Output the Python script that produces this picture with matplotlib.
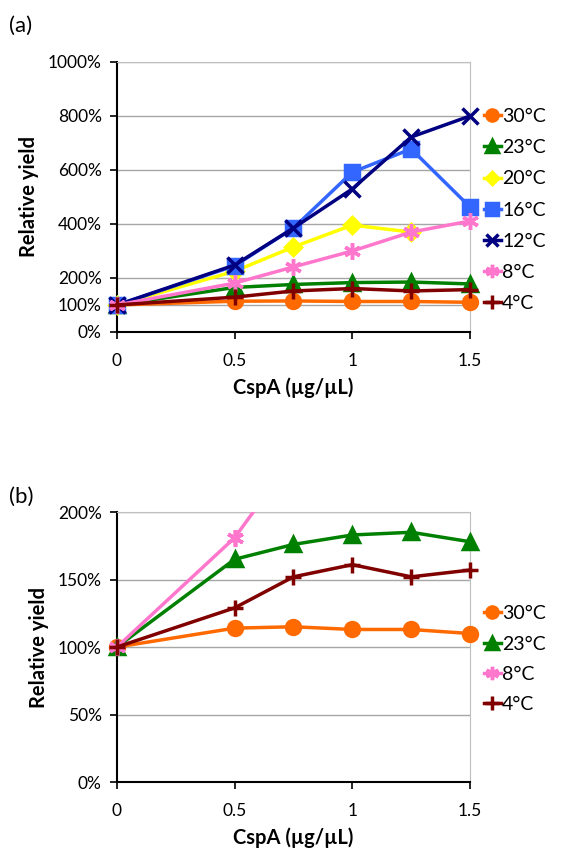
import numpy as np
import matplotlib.pyplot as plt
from matplotlib.ticker import FuncFormatter

plt.rcParams['font.family'] = ['Lato', 'DejaVu Sans']

cspa = [0, 0.5, 0.75, 1.0, 1.25, 1.5]

y_30 = [100, 114, 115, 113, 113, 110]
y_23 = [100, 165, 176, 183, 185, 178]
y_20 = [100, 225, 315, 396, 370]
y_16 = [100, 245, 385, 592, 678, 463]
y_12 = [100, 248, 385, 530, 722, 800]
y_8 = [100, 181, 241, 300, 370, 411]
y_4 = [100, 129, 152, 161, 152, 157]

series_a = [
    ('30°C', y_30, '#FF6A00', 'o', 10),
    ('23°C', y_23, '#008000', '^', 10),
    ('20°C', y_20, '#FFFF00', 'D', 8),
    ('16°C', y_16, '#3366FF', 's', 10),
    ('12°C', y_12, '#000080', 'x', 11),
    ('8°C', y_8, '#FF77CC', (6, 2, 0), 12),
    ('4°C', y_4, '#800000', '+', 12),
]
series_b = [s for s in series_a if s[0] in ('30°C', '23°C', '8°C', '4°C')]

pct = FuncFormatter(lambda v, p: '%d%%' % v)
xfmt = FuncFormatter(lambda v, p: ('%g' % v))

fig = plt.figure(figsize=(5.64, 8.48), dpi=100)
ax_a = fig.add_axes([0.2074, 0.6085, 0.6259, 0.3184])
ax_b = fig.add_axes([0.2074, 0.0778, 0.6259, 0.3184])


def style(ax, yticks, ymax):
    ax.set_xlim(0, 1.5)
    ax.set_ylim(0, ymax)
    ax.set_xticks([0, 0.5, 1, 1.5])
    ax.set_yticks(yticks)
    ax.xaxis.set_major_formatter(xfmt)
    ax.yaxis.set_major_formatter(pct)
    ax.grid(axis='y', color='#a6a6a6', lw=1)
    ax.set_axisbelow(True)
    for s in ('top', 'right'):
        ax.spines[s].set_color('#bfbfbf')
    for s in ('left', 'bottom'):
        ax.spines[s].set_color('black')
        ax.spines[s].set_linewidth(1.5)
    ax.tick_params(direction='out', length=5, width=1.2, labelsize=12.5,
                   color='black')
    ax.tick_params(axis='x', pad=10)
    ax.tick_params(axis='y', pad=6)
    ax.set_xlabel('CspA (µg/µL)', fontsize=14.5, fontweight='bold',
                  labelpad=6)
    ax.set_ylabel('Relative yield', fontsize=14.5, fontweight='bold',
                  labelpad=6)


for name, ys, col, mk, ms in series_a:
    xs = cspa[:len(ys)]
    ax_a.plot(xs, ys, color=col, lw=2.5, marker=mk, ms=ms, mew=2.5,
              mfc=col, mec=col, label=name, clip_on=False, zorder=3)

for name, ys, col, mk, ms in series_b:
    xs = np.array(cspa[:len(ys)])
    ys = np.array(ys)
    if name == '8°C':
        ax_b.plot(xs, ys, color=col, lw=2.5, label=name, marker=mk, ms=ms,
                  mew=2.5, zorder=3)
        inside = ys <= 200
        ax_b.plot(xs[inside], ys[inside], ls='none', marker=mk, ms=ms,
                  mew=2.5, color=col, clip_on=False, zorder=3)
    else:
        ax_b.plot(xs, ys, color=col, lw=2.5, marker=mk, ms=ms, mew=2.5,
                  mfc=col, mec=col, label=name, clip_on=False, zorder=3)

style(ax_a, [0, 100, 200, 400, 600, 800, 1000], 1000)
style(ax_b, [0, 50, 100, 150, 200], 200)

ax_a.legend(loc='upper left', bbox_to_anchor=(1.0, 0.88), frameon=False,
            fontsize=14, handlelength=0.9, handletextpad=0.05,
            labelspacing=0.73, borderaxespad=0.3, markerscale=0.8)
ax_b.legend(loc='upper left', bbox_to_anchor=(1.0, 0.705), frameon=False,
            fontsize=14, handlelength=0.9, handletextpad=0.05,
            labelspacing=0.68, borderaxespad=0.3, markerscale=0.8)

fig.text(0.016, 0.962, '(a)', fontsize=16)
fig.text(0.016, 0.407, '(b)', fontsize=16)

fig.savefig('out.png', dpi=100)
